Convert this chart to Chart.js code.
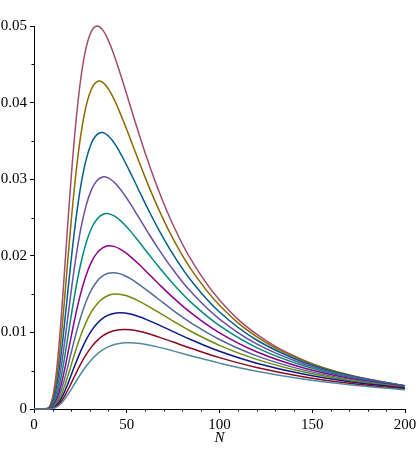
<!DOCTYPE html>
<html>
<head>
<meta charset="utf-8">
<script src="https://cdn.jsdelivr.net/npm/chart.js@4.4.1/dist/chart.umd.min.js"></script>
<style>
html,body{margin:0;padding:0;background:#fff;}
#wrap{width:418px;height:452px;}
</style>
</head>
<body>
<div id="wrap"><canvas id="c" width="418" height="452"></canvas></div>
<script>
// N values (x)
const N = [0, 7, 9, 11, 13, 15, 17, 19, 22, 25, 28, 31, 34, 37, 40, 43, 46, 49, 52, 56, 61, 67, 75, 85, 100, 120, 145, 170, 200];

// series values (top curve first)
const s1  = [0, 0.00005, 0.00065, 0.00279, 0.00703, 0.01303, 0.01992, 0.02683, 0.03594, 0.04272, 0.04707, 0.04934, 0.05, 0.04949, 0.04816, 0.04632, 0.04417, 0.04185, 0.0395, 0.03637, 0.03267, 0.02864, 0.02402, 0.01936, 0.01423, 0.00977, 0.00641, 0.00441, 0.00296];
const s2  = [0, 0.00004, 0.00049, 0.00213, 0.00546, 0.01026, 0.01588, 0.02163, 0.02941, 0.0354, 0.03945, 0.04178, 0.04273, 0.04265, 0.04182, 0.04052, 0.03889, 0.03709, 0.03521, 0.03267, 0.02959, 0.02619, 0.02221, 0.01813, 0.01355, 0.00946, 0.00633, 0.00443, 0.00302];
const s3  = [0, 0.00003, 0.00036, 0.00159, 0.00416, 0.00793, 0.01243, 0.01712, 0.02362, 0.0288, 0.03246, 0.03473, 0.03585, 0.0361, 0.03567, 0.03481, 0.03364, 0.03228, 0.03083, 0.02882, 0.02633, 0.02352, 0.02018, 0.01667, 0.01266, 0.00901, 0.00614, 0.00436, 0.00303];
const s4  = [0, 0.00002, 0.00026, 0.00118, 0.00314, 0.00608, 0.00965, 0.01344, 0.01881, 0.02324, 0.02649, 0.02864, 0.02983, 0.03029, 0.03017, 0.02965, 0.02886, 0.02787, 0.02677, 0.0252, 0.02323, 0.02094, 0.01817, 0.0152, 0.01174, 0.0085, 0.00591, 0.00427, 0.00301];
const s5  = [0, 0.00001, 0.00019, 0.00088, 0.00237, 0.00466, 0.00749, 0.01055, 0.01498, 0.01873, 0.0216, 0.02359, 0.0248, 0.02539, 0.0255, 0.02524, 0.02472, 0.02403, 0.02322, 0.02202, 0.02047, 0.01863, 0.01634, 0.01385, 0.01087, 0.00802, 0.00568, 0.00416, 0.00299];
const s6  = [0, 0.00001, 0.00014, 0.00065, 0.00177, 0.00353, 0.00574, 0.00817, 0.01178, 0.01493, 0.01741, 0.01921, 0.02038, 0.02104, 0.0213, 0.02123, 0.02094, 0.02048, 0.0199, 0.01902, 0.01783, 0.01638, 0.01454, 0.01248, 0.00995, 0.00748, 0.00539, 0.00402, 0.00293];
const s7  = [0, 0.00001, 0.0001, 0.00047, 0.00132, 0.00266, 0.00439, 0.00632, 0.00924, 0.01185, 0.01398, 0.01558, 0.01669, 0.01738, 0.01772, 0.0178, 0.01767, 0.01739, 0.01701, 0.01637, 0.01548, 0.01436, 0.01288, 0.01119, 0.00907, 0.00694, 0.00511, 0.00387, 0.00286];
const s8  = [0, 0, 0.00007, 0.00035, 0.00098, 0.00202, 0.00336, 0.0049, 0.00727, 0.00945, 0.01128, 0.0127, 0.01372, 0.01441, 0.01481, 0.015, 0.01498, 0.01484, 0.01459, 0.01415, 0.0135, 0.01264, 0.01147, 0.01009, 0.00831, 0.00648, 0.00485, 0.00373, 0.00281];
const s9  = [0, 0, 0.00005, 0.00025, 0.00073, 0.00151, 0.00255, 0.00376, 0.00567, 0.00746, 0.009, 0.01024, 0.01117, 0.01183, 0.01225, 0.01248, 0.01256, 0.01252, 0.01239, 0.0121, 0.01164, 0.01101, 0.0101, 0.009, 0.00753, 0.00598, 0.00457, 0.00357, 0.00273];
const s10 = [0, 0, 0.00004, 0.00018, 0.00053, 0.00111, 0.00191, 0.00284, 0.00434, 0.00579, 0.00706, 0.00811, 0.00893, 0.00954, 0.00996, 0.01022, 0.01036, 0.01039, 0.01034, 0.01018, 0.00988, 0.00942, 0.00874, 0.00789, 0.00671, 0.00543, 0.00422, 0.00335, 0.00261];
const s11 = [0, 0, 0.00002, 0.00013, 0.00039, 0.00082, 0.00143, 0.00215, 0.00333, 0.0045, 0.00555, 0.00644, 0.00716, 0.00771, 0.00811, 0.00839, 0.00856, 0.00864, 0.00865, 0.00858, 0.00839, 0.00808, 0.00759, 0.00693, 0.00599, 0.00493, 0.00391, 0.00316, 0.0025];

// tick labels
const xMajor = [0, 50, 100, 150, 200];
const xMinor = [10, 20, 30, 40, 60, 70, 80, 90, 110, 120, 130, 140, 160, 170, 180, 190];
const yMajor = [0, 0.01, 0.02, 0.03, 0.04, 0.05];
const yMinor = [0.005, 0.015, 0.025, 0.035, 0.045];
const xTitle = 'N';

const series = [s1, s2, s3, s4, s5, s6, s7, s8, s9, s10, s11];
const colors = ['#A24C6B', '#8C6A00', '#005F8F', '#6B4FA3', '#008A7A', '#8E0089', '#52699C', '#6E8C0A', '#0A1A8C', '#8C0A1E', '#4F8AA0'];

const datasets = series.map((s, i) => ({
  data: N.map((n, j) => ({x: n, y: s[j]})),
  borderColor: colors[i],
  borderWidth: 1.5,
  pointRadius: 0,
  fill: false,
  tension: 0.4,
  clip: false
})).reverse();

const minorTicks = {
  id: 'minorTicks',
  afterDraw(chart) {
    const ctx = chart.ctx, xs = chart.scales.x, ys = chart.scales.y;
    ctx.save();
    ctx.strokeStyle = '#000';
    ctx.lineWidth = 1;
    ctx.beginPath();
    xMinor.forEach(v => {
      const px = Math.round(xs.getPixelForValue(v)) + 0.5;
      ctx.moveTo(px, ys.bottom);
      ctx.lineTo(px, ys.bottom + 2.5);
    });
    yMinor.forEach(v => {
      const py = Math.round(ys.getPixelForValue(v)) + 0.5;
      ctx.moveTo(xs.left, py);
      ctx.lineTo(xs.left - 2.5, py);
    });
    ctx.stroke();
    ctx.restore();
  }
};

const font = {family: '"Liberation Serif", "Times New Roman", serif', size: 15};

new Chart(document.getElementById('c'), {
  type: 'line',
  data: {datasets},
  options: {
    responsive: false,
    animation: false,
    events: [],
    layout: {padding: {top: 26, right: 13, left: 0, bottom: 0}},
    plugins: {legend: {display: false}, tooltip: {enabled: false}},
    scales: {
      x: {
        type: 'linear',
        min: 0, max: 200,
        afterBuildTicks: s => { s.ticks = xMajor.map(v => ({value: v})); },
        afterFit: s => { s.paddingRight = 0; s.paddingLeft = 0; },
        ticks: {color: '#000', font, padding: 3, maxRotation: 0, autoSkip: false, callback: v => String(v)},
        grid: {drawOnChartArea: false, drawTicks: true, tickLength: 4, tickColor: '#000'},
        border: {display: true, color: '#000', width: 1},
        title: {display: true, text: xTitle, color: '#000', font: {family: font.family, size: 15, style: 'italic'}, padding: {top: -8, bottom: 5}}
      },
      y: {
        type: 'linear',
        min: 0, max: 0.05,
        afterBuildTicks: s => { s.ticks = yMajor.map(v => ({value: v})); },
        afterFit: s => { s.width = 34; },
        ticks: {color: '#000', font, padding: 3, autoSkip: false, callback: v => String(Number(v.toFixed(3)))},
        grid: {drawOnChartArea: false, drawTicks: true, tickLength: 4, tickColor: '#000'},
        border: {display: true, color: '#000', width: 1}
      }
    }
  },
  plugins: [minorTicks]
});
</script>
</body>
</html>
